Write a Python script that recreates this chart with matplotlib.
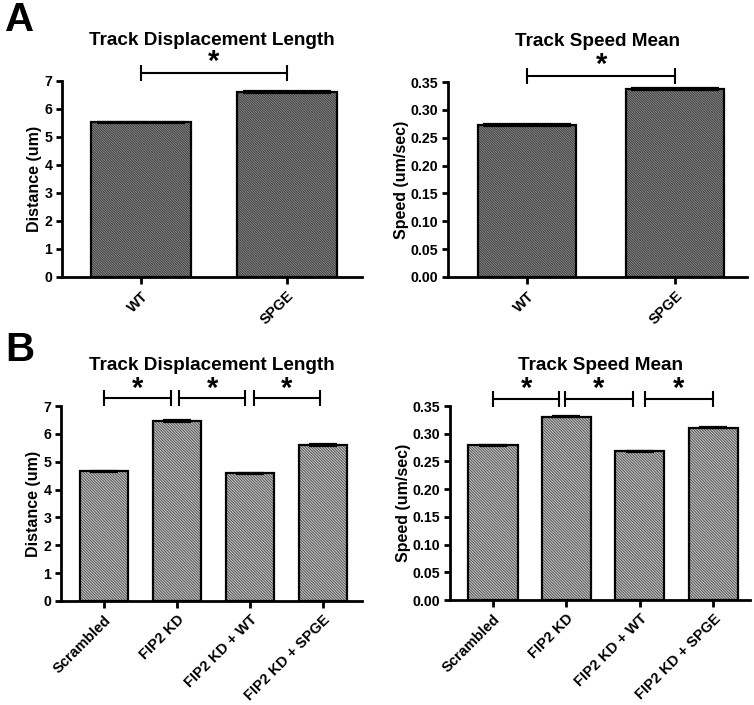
import numpy as np
import matplotlib
matplotlib.use("Agg")
import matplotlib.pyplot as plt

plt.rcParams.update({
    "font.family": "Liberation Sans", "font.weight": "bold",
    "axes.linewidth": 2.0, "hatch.linewidth": 0.7,
    "xtick.major.width": 2.0, "ytick.major.width": 2.0,
    "xtick.major.size": 5, "ytick.major.size": 4.5,
    "ytick.major.pad": 2.5,
})

# datos
cats_a = ["WT", "SPGE"]
dist_a = [5.52, 6.60]
dist_a_err = [0.03, 0.03]
speed_a = [0.273, 0.338]
speed_a_err = [0.0015, 0.0015]

cats_b = ["Scrambled", "FIP2 KD", "FIP2 KD + WT", "FIP2 KD + SPGE"]
dist_b = [4.65, 6.45, 4.58, 5.60]
dist_b_err = [0.03, 0.03, 0.03, 0.03]
speed_b = [0.279, 0.331, 0.268, 0.311]
speed_b_err = [0.0012, 0.0012, 0.0012, 0.0012]

dist_ticks = np.arange(0, 8, 1)
speed_ticks = np.arange(0, 0.36, 0.05)


def panel(ax, cats, vals, errs, color, hcolor, hatch, width, cap, xlim, ymax,
          yticks, yfmt, ylabel, title, brackets, by, sy):
    x = np.arange(len(cats))
    # relleno rayado y contorno por separado (color de la trama distinto)
    ax.bar(x, vals, width, color=color, edgecolor=hcolor, linewidth=0,
           hatch=hatch, zorder=2)
    ax.bar(x, vals, width, fill=False, edgecolor="black", linewidth=1.6, zorder=3)
    ax.errorbar(x, vals, yerr=errs, fmt="none", ecolor="black", elinewidth=1.5,
                capsize=cap, capthick=1.6, zorder=4)
    ax.set_xlim(*xlim)
    ax.set_ylim(0, ymax)
    ax.set_yticks(yticks)
    ax.set_yticklabels([yfmt.format(t) for t in yticks], fontsize=10.2, weight="bold")
    ax.set_xticks(x)
    ax.set_xticklabels(cats, rotation=45, ha="right", rotation_mode="anchor",
                       fontsize=10.5, weight="bold")
    ax.spines["top"].set_visible(False)
    ax.spines["right"].set_visible(False)
    ax.set_ylabel(ylabel, fontsize=11.5, weight="bold", labelpad=1.5)
    ax.set_title(title, fontsize=13.6, weight="bold", pad=26)
    for x1, x2 in brackets:
        ax.plot([x1, x2], [by, by], color="black", lw=1.5, marker="|",
                markersize=11, markeredgewidth=1.5, clip_on=False)
        ax.text((x1 + x2) / 2, sy, "*", ha="center", va="center",
                fontsize=21, weight="bold")


fig = plt.figure(figsize=(7.54, 7.05), dpi=100)
H = 705.0
W = 754.0


def add_ax(x0, x1, y0, y1):
    return fig.add_axes([x0 / W, 1 - y1 / H, (x1 - x0) / W, (y1 - y0) / H])


ax1 = add_ax(62, 362, 81, 277)
panel(ax1, cats_a, dist_a, dist_a_err, "#9a9a9a", "#3a3a3a", "\\" * 14, 0.68, 32,
      (-0.541, 1.514), 7, dist_ticks, "{:.0f}", "Distance (um)",
      "Track Displacement Length", [(0, 1)], 7.29, 7.68)

ax2 = add_ax(448, 747, 82, 277)
panel(ax2, cats_a, speed_a, speed_a_err, "#9a9a9a", "#3a3a3a", "\\" * 14, 0.66, 32,
      (-0.534, 1.486), 0.35, speed_ticks, "{:.2f}", "Speed (um/sec)",
      "Track Speed Mean", [(0, 1)], 0.361, 0.381)

ax3 = add_ax(61, 362, 406, 601)
panel(ax3, cats_b, dist_b, dist_b_err, "#c8c8c8", "#555555", "\\" * 12, 0.67, 10,
      (-0.589, 3.534), 7, dist_ticks, "{:.0f}", "Distance (um)",
      "Track Displacement Length",
      [(0, 0.92), (1.03, 1.93), (2.05, 2.96)], 7.29, 7.62)

ax4 = add_ax(450, 750, 406, 600)
panel(ax4, cats_b, speed_b, speed_b_err, "#c8c8c8", "#555555", "\\" * 12, 0.67, 10,
      (-0.587, 3.5), 0.35, speed_ticks, "{:.2f}", "Speed (um/sec)",
      "Track Speed Mean",
      [(0, 0.9), (0.98, 1.9), (2.07, 2.99)], 0.3626, 0.381)

fig.text(5 / W, 1 - 20 / H, "A", fontsize=29, weight="bold", va="center")
fig.text(5 / W, 1 - 350 / H, "B", fontsize=29, weight="bold", va="center")

fig.savefig("out.png", dpi=100)
